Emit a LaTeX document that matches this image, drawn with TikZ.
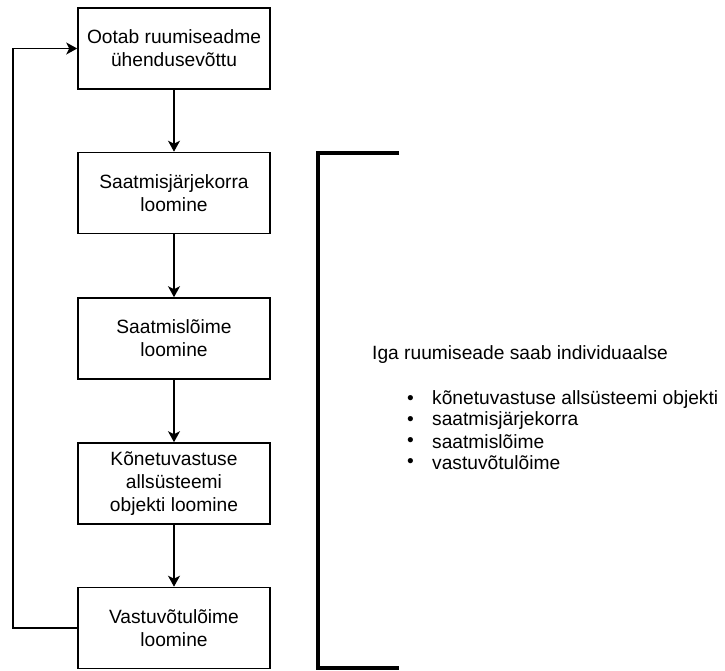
\documentclass[tikz,border=0pt]{standalone}
\usepackage{fontspec}
\setmainfont{Liberation Sans}
\usetikzlibrary{arrows.meta}

\begin{document}
\begin{tikzpicture}[x=1pt,y=-1pt,
  stepbox/.style={draw=black,line width=1.6pt,minimum width=192pt,minimum height=81pt,
    inner sep=0pt,align=center,font=\fontsize{19.2}{23}\selectfont},
  flow/.style={draw=black,line width=1.6pt,-{Stealth[length=11pt,width=12pt,inset=3pt]}},
  brace/.style={draw=black,line width=3.2pt},
  note/.style={anchor=west,inner sep=0pt,font=\fontsize{19.2}{23}\selectfont}]
  \useasboundingbox (0,0) rectangle (725,670);

  % process steps
  \node[stepbox] (b1) at (174,48.5) {Ootab ruumiseadme\\ühendusevõttu};
  \node[stepbox] (b2) at (174,193) {Saatmisjärjekorra\\loomine};
  \node[stepbox] (b3) at (174,338.5) {Saatmislõime\\loomine};
  \node[stepbox] (b4) at (174,483.5) {Kõnetuvastuse\\allsüsteemi\\objekti loomine};
  \node[stepbox] (b5) at (174,628) {Vastuvõtulõime\\loomine};

  \draw[flow] (b1.south) -- (b2.north);
  \draw[flow] (b2.south) -- (b3.north);
  \draw[flow] (b3.south) -- (b4.north);
  \draw[flow] (b4.south) -- (b5.north);

  % loop back to the waiting state
  \coordinate (lp) at (13,628);
  \draw[flow] (b5.west) -- (lp) |- (b1.west);

  % square bracket grouping the per-device objects
  \coordinate (bt) at (399,153);
  \coordinate (btl) at (318,153);
  \coordinate (bbl) at (318,668);
  \coordinate (bb) at (399,668);
  \draw[brace] (bt) -- (btl) -- (bbl) -- (bb);

  % description
  \node[note] (t0) at (372,355) {Iga ruumiseade saab individuaalse};
  \foreach \i/\txt in {0/kõnetuvastuse allsüsteemi objekti,1/saatmisjärjekorra,2/saatmislõime,3/vastuvõtulõime}{
    \node[note] (d\i) at (407,400+21*\i) {•};
    \node[note] (i\i) at (432,400+21*\i) {\txt};
  }
\end{tikzpicture}
\end{document}
